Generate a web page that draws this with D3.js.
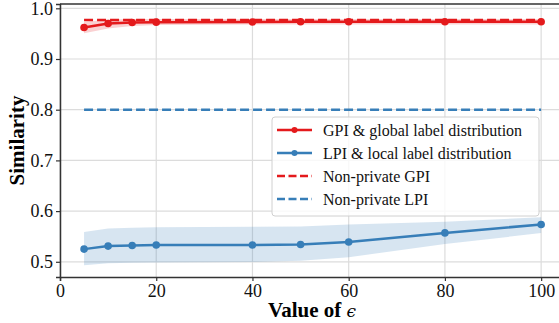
<!DOCTYPE html>
<html>
<head>
<meta charset="utf-8">
<script src="https://cdn.jsdelivr.net/npm/d3@7"></script>
<style>
  body { margin: 0; background: #fff; }
  svg text { font-family: "Liberation Serif", "DejaVu Serif", serif; }
</style>
</head>
<body>
<svg></svg>
<script>
var margin = {top: 4, right: -5, bottom: 46, left: 60};

var epsilons = [5, 10, 15, 20, 40, 50, 60, 80, 100];
var gpiMean  = [0.962, 0.970, 0.972, 0.9727, 0.973, 0.9735, 0.9735, 0.9735, 0.9735];
var gpiLow   = [0.951, 0.960, 0.965, 0.967, 0.968, 0.968, 0.968, 0.968, 0.968];
var gpiHigh  = [0.973, 0.978, 0.979, 0.979, 0.979, 0.979, 0.979, 0.979, 0.979];
var lpiMean  = [0.525, 0.531, 0.532, 0.533, 0.533, 0.534, 0.539, 0.557, 0.5736];
var lpiLow   = [0.493, 0.497, 0.498, 0.4986, 0.4994, 0.502, 0.509, 0.535, 0.5566];
var lpiHigh  = [0.5586, 0.5657, 0.567, 0.568, 0.569, 0.5697, 0.5736, 0.579, 0.588];
var nonPrivGPI = 0.977;
var nonPrivLPI = 0.800;
var xTicks = [0, 20, 40, 60, 80, 100];
var yTicks = [0.5, 0.6, 0.7, 0.8, 0.9, 1.0];
var legendLabels = ["GPI & global label distribution", "LPI & local label distribution", "Non-private GPI", "Non-private LPI"];

var red = "#e41a1c", blue = "#377eb8";
var serif = "'Liberation Serif', 'DejaVu Serif', serif";

var W = 559, H = 323;
var visWidth = W - margin.left - margin.right;
var visHeight = H - margin.top - margin.bottom;

var svg = d3.select("svg").attr("width", W).attr("height", H);
var g = svg.append("g").attr("transform", "translate(" + margin.left + "," + margin.top + ")");

var x = d3.scaleLinear().domain([0, 104.75]).range([0, visWidth]);
var y = d3.scaleLinear().domain([0.470, 1.0085]).range([visHeight, 0]);

// grid
g.selectAll(".gx").data(xTicks).enter().append("line")
  .attr("x1", d => x(d)).attr("x2", d => x(d))
  .attr("y1", 0).attr("y2", visHeight)
  .attr("stroke", "#dcdcdc").attr("stroke-width", 1.2);
g.selectAll(".gy").data(yTicks).enter().append("line")
  .attr("x1", 0).attr("x2", visWidth)
  .attr("y1", d => y(d)).attr("y2", d => y(d))
  .attr("stroke", "#dcdcdc").attr("stroke-width", 1.2);

var idx = d3.range(epsilons.length);

function band(lo, hi, color) {
  g.append("path").datum(idx)
    .attr("d", d3.area().x(i => x(epsilons[i])).y0(i => y(lo[i])).y1(i => y(hi[i])))
    .attr("fill", color).attr("fill-opacity", 0.2);
}
band(gpiLow, gpiHigh, red);
band(lpiLow, lpiHigh, blue);

function hline(v, color) {
  g.append("line")
    .attr("x1", x(5)).attr("x2", x(100))
    .attr("y1", y(v)).attr("y2", y(v))
    .attr("stroke", color).attr("stroke-width", 2.5)
    .attr("stroke-dasharray", "9,4");
}
hline(nonPrivGPI, red);
hline(nonPrivLPI, blue);

function series(vals, color) {
  g.append("path").datum(idx)
    .attr("d", d3.line().x(i => x(epsilons[i])).y(i => y(vals[i])))
    .attr("fill", "none").attr("stroke", color).attr("stroke-width", 2.5);
  g.selectAll(null).data(idx).enter().append("circle")
    .attr("cx", i => x(epsilons[i])).attr("cy", i => y(vals[i]))
    .attr("r", 3.8).attr("fill", color);
}
series(gpiMean, red);
series(lpiMean, blue);

// axes
var xAxis = g.append("g").attr("transform", "translate(0," + visHeight + ")")
  .call(d3.axisBottom(x).tickValues(xTicks).tickSize(4).tickPadding(3).tickFormat(d3.format("d")));
var yAxis = g.append("g")
  .call(d3.axisLeft(y).tickValues(yTicks).tickSize(4).tickPadding(3).tickFormat(d3.format(".1f")));
[xAxis, yAxis].forEach(function (a) {
  a.attr("font-family", serif).attr("font-size", 18);
  a.select(".domain").attr("stroke", "#333").attr("stroke-width", 1.5);
  a.selectAll(".tick line").attr("stroke", "#333").attr("stroke-width", 1.2);
  a.selectAll("text").attr("fill", "#111").style("font-family", serif);
});
g.append("line").attr("x1", 0).attr("x2", visWidth).attr("y1", 0).attr("y2", 0)
  .attr("stroke", "#333").attr("stroke-width", 1.5);

// labels
var xl = svg.append("text").attr("x", margin.left + visWidth / 2).attr("y", 317)
  .attr("text-anchor", "middle").attr("font-size", 21).attr("font-weight", "bold")
  .attr("font-family", serif);
xl.append("tspan").text("Value of ");
xl.append("tspan").attr("font-weight", "normal").attr("font-style", "italic")
  .attr("font-family", "'DejaVu Serif', serif").attr("font-size", 17).text("ϵ");
svg.append("text").attr("transform", "translate(24," + (margin.top + visHeight / 2) + ") rotate(-90)")
  .attr("text-anchor", "middle").attr("font-size", 21).attr("font-weight", "bold")
  .attr("font-family", serif)
  .text("Similarity");

// legend
var lg = svg.append("g").attr("transform", "translate(272,117)");
lg.append("rect").attr("width", 267).attr("height", 99).attr("rx", 3)
  .attr("fill", "#fff").attr("fill-opacity", 0.8).attr("stroke", "#d0d0d0");
var colors = [red, blue, red, blue];
legendLabels.forEach(function (lab, i) {
  var yy = 13 + i * 23;
  var row = lg.append("g").attr("transform", "translate(0," + yy + ")");
  var ln = row.append("line").attr("x1", 5).attr("x2", 40).attr("y1", 0).attr("y2", 0)
    .attr("stroke", colors[i]).attr("stroke-width", 2.5);
  if (i < 2) {
    row.append("circle").attr("cx", 22.5).attr("cy", 0).attr("r", 3).attr("fill", colors[i]);
  } else {
    ln.attr("stroke-dasharray", "8,3.5");
  }
  row.append("text").attr("x", 51).attr("y", 5.5).attr("font-size", 16).attr("fill", "#111")
    .attr("font-family", serif).text(lab);
});
</script>
</body>
</html>
